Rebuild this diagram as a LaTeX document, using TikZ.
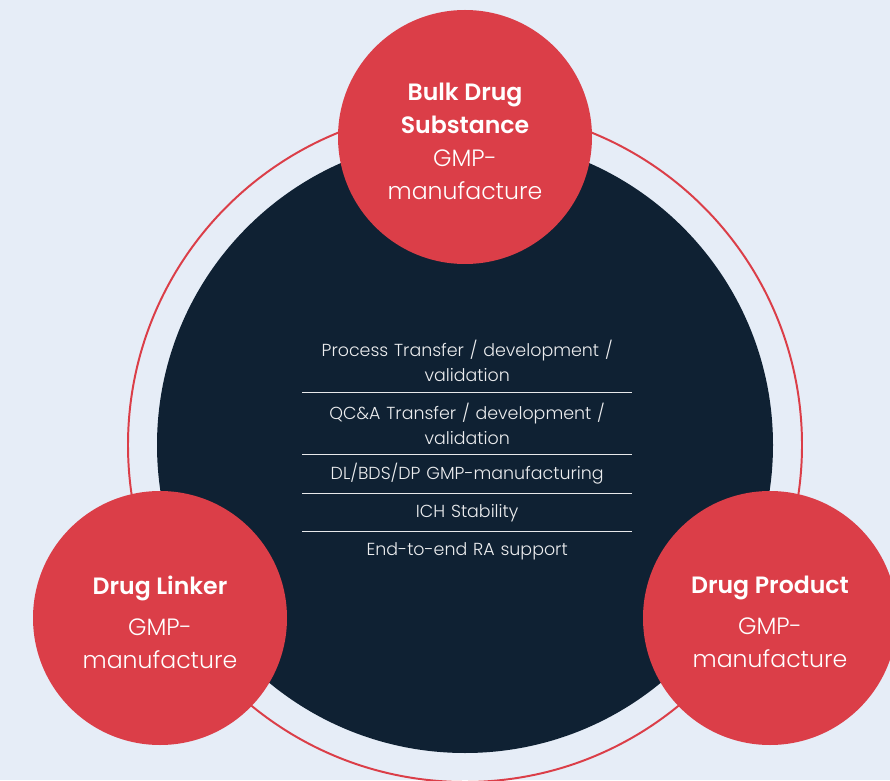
\documentclass[tikz,border=0pt]{standalone}
\usepackage{fontspec}
\setmainfont{Poppins}[BoldFont={Poppins SemiBold}]
\newfontfamily\lightfont{Poppins Light}
\usepackage{xcolor}
\usetikzlibrary{positioning}
\definecolor{bgblue}{HTML}{E6EDF7}
\definecolor{navy}{HTML}{0F2133}
\definecolor{brandred}{HTML}{DB3E48}

\begin{document}
\begin{tikzpicture}[
  bubble/.style={circle, fill=brandred, minimum size=6.35cm, inner sep=0pt},
  bubbletext/.style={text=white, align=center, inner sep=0pt,
    font=\fontsize{16.8}{23.5}\selectfont},
  cell/.style={text width=8.225cm, inner sep=0pt, align=center,
    minimum height=0.95cm, text=white!92!navy,
    font=\lightfont\fontsize{12.4}{17.8}\selectfont},
  cell2/.style={cell, minimum height=1.55cm},
  sep/.style={white!90!navy, line width=0.7pt}
]
\useasboundingbox (0,0) rectangle (22.25,19.5);
\clip (0,0) rectangle (22.25,19.5);
\fill[bgblue] (0,0) rectangle (22.25,19.5);
\draw[brandred, line width=1.4pt] (11.625,8.375) circle (8.425);
\fill[navy] (11.625,8.375) circle (7.7);

\node[cell2] (proc) at (11.68,10.475) {Process Transfer / development /\\validation};
\node[cell2, below=0pt of proc] (qca) {QC\&A Transfer / development /\\validation};
\node[cell, below=0pt of qca] (mfg) {DL/BDS/DP GMP-manufacturing};
\node[cell, below=0pt of mfg] (ich) {ICH Stability};
\node[cell, below=0pt of ich] (ra) {End-to-end RA support};
\foreach \n in {proc,qca,mfg,ich}
  \draw[sep] (\n.south west) -- (\n.south east);

\node[bubble] (bds) at (11.625,16.075) {};
\node[bubbletext] (bdstext) at ([yshift=-0.1cm]bds)
  {\textbf{Bulk Drug}\\\textbf{Substance}\\{\lightfont GMP-}\\{\lightfont manufacture}};
\node[bubble] (dl) at (4.0,4.05) {};
\node[bubbletext] (dltext) at ([yshift=-0.1cm]dl)
  {\textbf{Drug Linker}\\[5.7pt]{\lightfont GMP-}\\{\lightfont manufacture}};
\node[bubble] (dp) at (19.25,4.05) {};
\node[bubbletext] (dptext) at ([yshift=-0.1cm]dp)
  {\textbf{Drug Product}\\[5.7pt]{\lightfont GMP-}\\{\lightfont manufacture}};
\end{tikzpicture}
\end{document}
